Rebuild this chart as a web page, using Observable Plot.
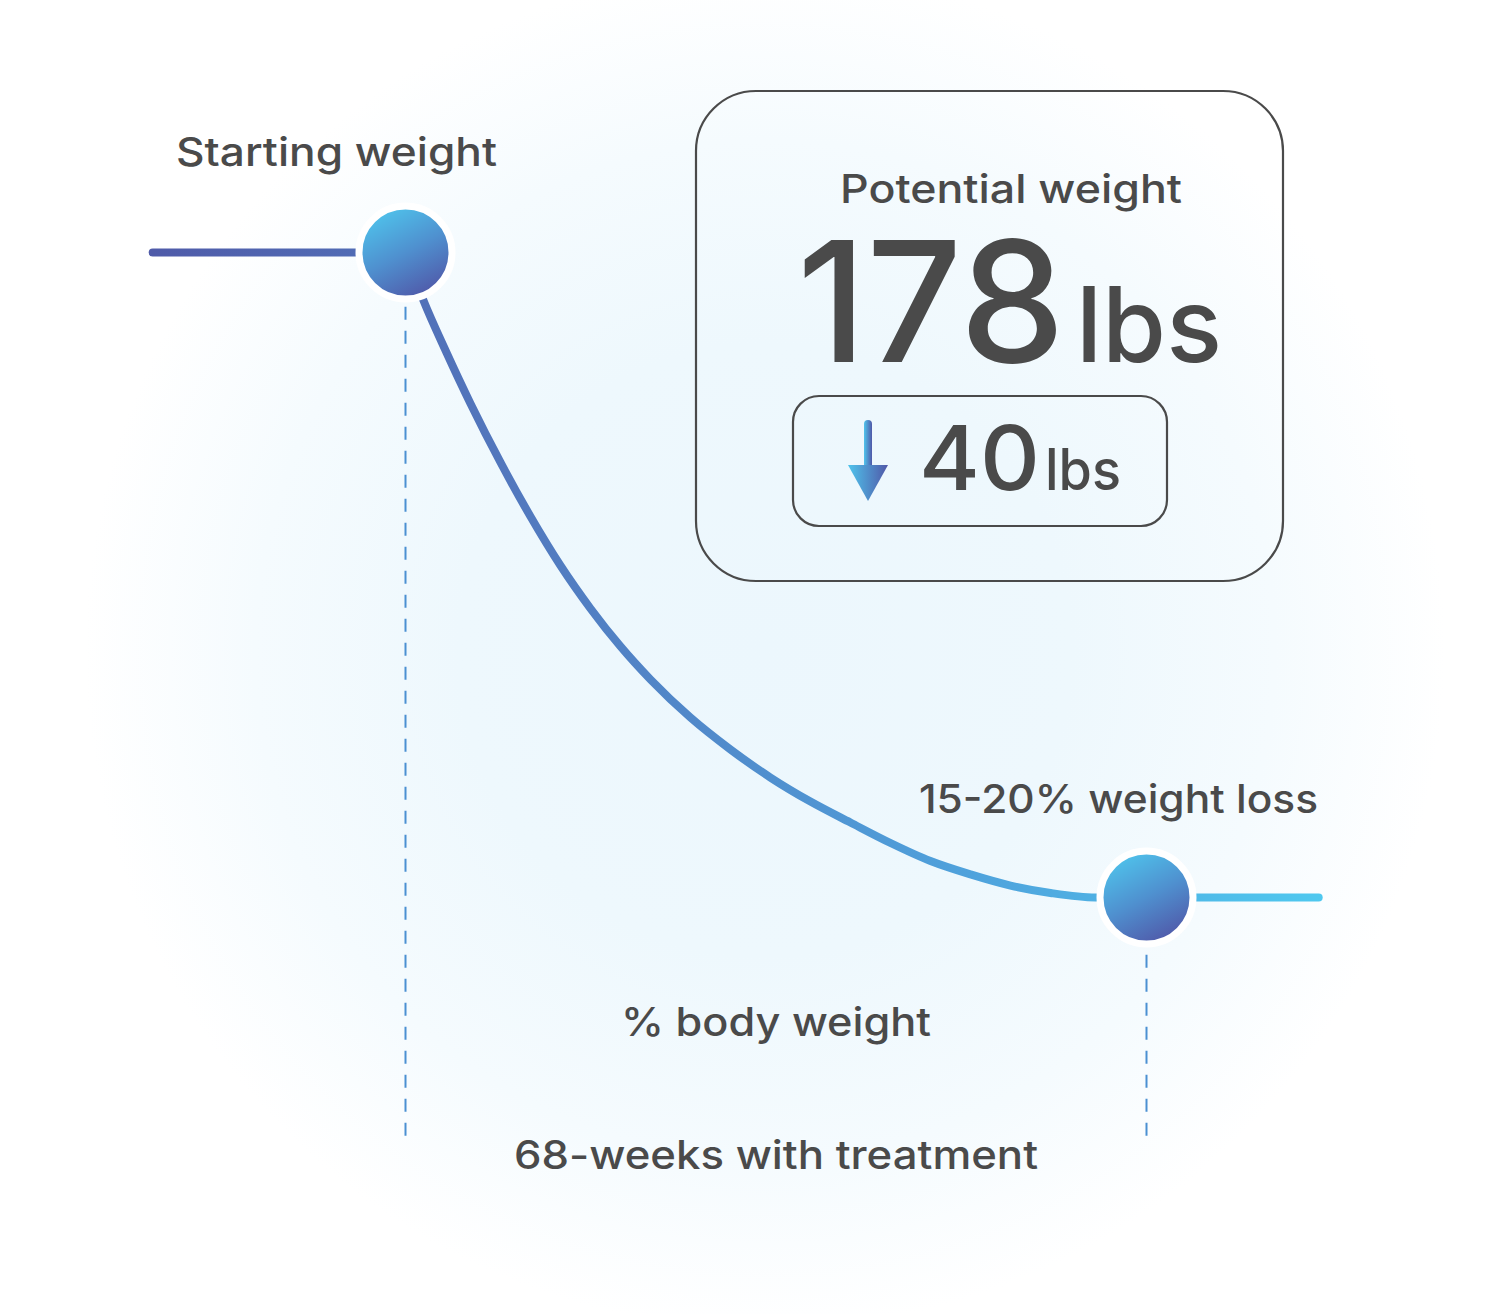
<!DOCTYPE html>
<html><head><meta charset="utf-8">
<script src="https://cdn.jsdelivr.net/npm/d3@7"></script>
<script src="https://cdn.jsdelivr.net/npm/@observablehq/plot@0.6"></script>
<style>
body{margin:0;background:#fff;}
#chart{position:relative;width:1500px;height:1314px;
background:radial-gradient(circle 680px at 765px 650px,#ecf7fd 0%,#eef8fd 45%,#f5fbfe 75%,#ffffff 100%);}
#chart svg{display:block;}
</style></head><body><div id="chart"></div>
<script>
// ---- data ----
const weeks   = [0, 1.65, 3.76, 5.96, 8.72, 11.47, 14.22, 16.98, 19.73, 22.48, 26.15, 29.82, 33.49, 37.16, 40.83, 44.51, 48.18, 51.85, 55.52, 59.19, 63.32, 68];
const weights = [218, 215.02, 211.8, 208.64, 204.98, 201.63, 198.59, 195.92, 193.57, 191.52, 189.16, 187.18, 185.44, 183.95, 182.65, 181.38, 180.26, 179.43, 178.74, 178.28, 178.0, 178];
const leadWeeks = [-23.2, 0];      // flat line before treatment
const tailWeeks = [68, 83.8];      // flat line after treatment
const milestoneWeeks = [0, 68];
const milestoneWeights = [218, 178];
const startWeight = 218;
const potentialWeight = 178;
const lossLbs = startWeight - potentialWeight;
const floorWeight = 163.2;         // bottom of the dashed guides
const pointLabels = ["Starting weight", "15-20% weight loss"];
const axisLabels = ["% body weight", "68-weeks with treatment"];
const boxTitle = "Potential weight";
const unit = "lbs";

const curve = weeks.map((w, i) => ({week: w, weight: weights[i]}));
const lead = leadWeeks.map(w => ({week: w, weight: startWeight}));
const tail = tailWeeks.map(w => ({week: w, weight: potentialWeight}));
const milestones = milestoneWeeks.map((w, i) => ({week: w, weight: milestoneWeights[i]}));

const ink = "#4a4a4a";
const font = "Inter, 'Open Sans', sans-serif";

function defsMark() {
  return (index, scales) => {
    const g = d3.create("svg:g");
    const defs = g.append("defs");
    const lg = defs.append("linearGradient").attr("id", "lineGrad")
      .attr("gradientUnits", "userSpaceOnUse")
      .attr("x1", scales.x(leadWeeks[0])).attr("x2", scales.x(tailWeeks[1]))
      .attr("y1", 0).attr("y2", 0);
    lg.append("stop").attr("offset", 0).attr("stop-color", "#4f5ba9");
    lg.append("stop").attr("offset", 0.3).attr("stop-color", "#5277bd");
    lg.append("stop").attr("offset", 0.7).attr("stop-color", "#4fa2dc");
    lg.append("stop").attr("offset", 1).attr("stop-color", "#4fc8ef");
    const dg = defs.append("linearGradient").attr("id", "dotGrad")
      .attr("x1", 0.25).attr("y1", 0.02).attr("x2", 0.75).attr("y2", 0.98);
    dg.append("stop").attr("offset", 0).attr("stop-color", "#4fc4ec");
    dg.append("stop").attr("offset", 0.5).attr("stop-color", "#4f90cf");
    dg.append("stop").attr("offset", 1).attr("stop-color", "#5056a7");
    const ag = defs.append("linearGradient").attr("id", "arrowGrad")
      .attr("x1", 0).attr("y1", 0).attr("x2", 1).attr("y2", 0);
    ag.append("stop").attr("offset", 0).attr("stop-color", "#4fc4ec");
    ag.append("stop").attr("offset", 1).attr("stop-color", "#5058a8");
    return g.node();
  };
}

function boxMark() {
  return () => {
    const g = d3.create("svg:g").attr("text-anchor", "start");
    g.append("rect").attr("x", 696).attr("y", 91).attr("width", 587).attr("height", 490)
      .attr("rx", 60).attr("fill", "none").attr("stroke", ink).attr("stroke-width", 2.2);
    g.append("rect").attr("x", 793).attr("y", 396).attr("width", 374).attr("height", 130)
      .attr("rx", 26).attr("fill", "none").attr("stroke", ink).attr("stroke-width", 2.2);
    g.append("text").attr("x", 1011).attr("y", 203).attr("text-anchor", "middle")
      .attr("font-family", font).attr("font-weight", 500).attr("font-size", 39)
      .attr("fill", ink).attr("textLength", 342).attr("lengthAdjust", "spacingAndGlyphs").text(boxTitle);
    g.append("text").attr("x", 797).attr("y", 362).attr("text-anchor", "start")
      .attr("font-family", font).attr("font-weight", 500).attr("font-size", 168)
      .attr("fill", ink).attr("textLength", 268).attr("lengthAdjust", "spacingAndGlyphs").text(String(potentialWeight));
    g.append("text").attr("x", 1076).attr("y", 362).attr("text-anchor", "start")
      .attr("font-family", font).attr("font-weight", 500).attr("font-size", 104)
      .attr("fill", ink).attr("textLength", 146).attr("lengthAdjust", "spacingAndGlyphs").text(unit);
    g.append("text").attr("x", 919).attr("y", 490).attr("text-anchor", "start")
      .attr("font-family", font).attr("font-weight", 500).attr("font-size", 90)
      .attr("fill", ink).attr("textLength", 121).attr("lengthAdjust", "spacingAndGlyphs").text(String(lossLbs));
    g.append("text").attr("x", 1045).attr("y", 490).attr("text-anchor", "start")
      .attr("font-family", font).attr("font-weight", 500).attr("font-size", 57)
      .attr("fill", ink).attr("textLength", 76).attr("lengthAdjust", "spacingAndGlyphs").text(unit);
    // down arrow
    g.append("rect").attr("x", 864).attr("y", 420).attr("width", 8).attr("height", 52).attr("rx", 4)
      .attr("fill", "url(#arrowGrad)");
    g.append("path").attr("d", "M848,465 L888,465 L868,501 Z").attr("fill", "url(#arrowGrad)");
    return g.node();
  };
}

const chart = Plot.plot({
  width: 1500,
  height: 1314,
  margin: 0,
  style: {background: "transparent", overflow: "visible"},
  x: {domain: [0, 68], range: [405, 1146], axis: null},
  y: {domain: [178, 218], range: [897, 252], axis: null},
  marks: [
    defsMark(),
    Plot.ruleX(milestones, {x: "week", y1: floorWeight, y2: "weight", stroke: "#4b90d2", strokeWidth: 2, strokeDasharray: "13,11"}),
    Plot.line(lead, {x: "week", y: "weight", stroke: "url(#lineGrad)", strokeWidth: 8, strokeLinecap: "round"}),
    Plot.line(tail, {x: "week", y: "weight", stroke: "url(#lineGrad)", strokeWidth: 8, strokeLinecap: "round"}),
    Plot.line(curve, {x: "week", y: "weight", curve: "monotone-x", stroke: "url(#lineGrad)", strokeWidth: 8, strokeLinecap: "round"}),
    Plot.dot(milestones, {x: "week", y: "weight", r: 46.5, fill: "url(#dotGrad)", stroke: "white", strokeWidth: 7}),
    Plot.text([milestones[0]], {x: "week", y: "weight", text: () => pointLabels[0], dx: -69, dy: -87, lineAnchor: "bottom", textAnchor: "middle", fontSize: 39, fontWeight: 500, fontFamily: font, fill: ink}),
    Plot.text([milestones[1]], {x: "week", y: "weight", text: () => pointLabels[1], dx: -28, dy: -85, lineAnchor: "bottom", textAnchor: "middle", fontSize: 39, fontWeight: 500, fontFamily: font, fill: ink}),
    Plot.text([axisLabels[0]], {x: () => 34, text: d => d, frameAnchor: "bottom", dy: -279, lineAnchor: "bottom", fontSize: 39, fontWeight: 500, fontFamily: font, fill: ink}),
    Plot.text([axisLabels[1]], {x: () => 34, text: d => d, frameAnchor: "bottom", dy: -146, lineAnchor: "bottom", fontSize: 39, fontWeight: 500, fontFamily: font, fill: ink}),
    boxMark()
  ]
});
document.getElementById("chart").appendChild(chart);

// match the label widths of the reference
const widths = {"Starting weight": 321, "15-20% weight loss": 399, "% body weight": 310, "68-weeks with treatment": 524};
d3.select(chart).selectAll("text").each(function() {
  const t = this.textContent;
  if (widths[t]) { this.setAttribute("textLength", widths[t]); this.setAttribute("lengthAdjust", "spacingAndGlyphs"); }
});
</script>
</body></html>
